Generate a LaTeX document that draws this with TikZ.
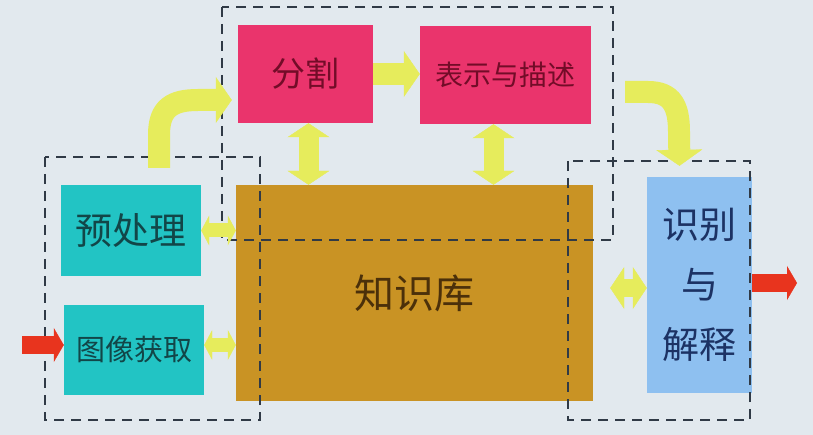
\documentclass[tikz,border=0pt]{standalone}
\usepackage{fontspec}
\newfontfamily\cjk{Noto Sans CJK SC}
\usepackage{xcolor}
\usetikzlibrary{arrows.meta}
\definecolor{bgc}{RGB}{226,233,238}
\definecolor{pinkc}{RGB}{234,52,108}
\definecolor{pinkt}{RGB}{115,12,40}
\definecolor{tealc}{RGB}{34,196,196}
\definecolor{tealt}{RGB}{18,70,72}
\definecolor{goldc}{RGB}{201,147,36}
\definecolor{goldt}{RGB}{75,48,10}
\definecolor{bluec}{RGB}{142,192,240}
\definecolor{bluet}{RGB}{28,50,100}
\definecolor{ylw}{RGB}{230,236,92}
\definecolor{redc}{RGB}{232,52,30}
\definecolor{dashc}{RGB}{48,58,70}
\tikzset{
  box/.style={inner sep=0pt, align=center},
  grp/.style={draw=dashc, line width=2.8pt, dash pattern=on 10pt off 7pt},
  yarr/.style={draw=ylw, line width=22pt,
    -{Triangle[width=46pt,length=16pt,line width=0.4pt]}},
  ydbl/.style={draw=ylw, line width=20pt,
    {Triangle[width=42pt,length=14pt,line width=0.4pt]}-{Triangle[width=42pt,length=14pt,line width=0.4pt]}},
  ysml/.style={draw=ylw, line width=14pt,
    {Triangle[width=30pt,length=8pt,line width=0.4pt]}-{Triangle[width=30pt,length=8pt,line width=0.4pt]}},
  rarr/.style={draw=redc, line width=18pt,
    -{Triangle[width=34pt,length=10pt,line width=0.4pt]}}
}
\begin{document}
\begin{tikzpicture}[x=1pt,y=-1pt]
\fill[bgc] (0,0) rectangle (813,435);
\useasboundingbox (0,0) rectangle (813,435);

\node[box, fill=pinkc, text=pinkt, minimum width=135pt, minimum height=98pt,
  font={\cjk\fontsize{34}{40}\selectfont}] (FG) at (305.5,74) {分割};
\node[box, fill=pinkc, text=pinkt, minimum width=171pt, minimum height=98pt,
  font={\cjk\fontsize{28}{32}\selectfont}] (BS) at (505.5,75) {表示与描述};
\node[box, fill=tealc, text=tealt, minimum width=140pt, minimum height=91pt,
  font={\cjk\fontsize{37}{40}\selectfont}] (YC) at (131,230.5) {预处理};
\node[box, fill=tealc, text=tealt, minimum width=140pt, minimum height=90pt,
  font={\cjk\fontsize{29}{34}\selectfont}] (TX) at (134,350) {图像获取};
\node[box, fill=goldc, text=goldt, minimum width=357pt, minimum height=216pt,
  font={\cjk\fontsize{40}{44}\selectfont}] (ZS) at (414.5,293) {知识库};
\node[box, fill=bluec, text=bluet, minimum width=105pt, minimum height=216pt,
  font={\cjk\fontsize{37}{60}\selectfont}] (SB) at (699.5,285) {识别\\与\\解释};

% dashed groups
\draw[grp] (222,7) rectangle (613,240);
\draw[grp] (45,157) rectangle (260,420);
\draw[grp] (568,161) rectangle (750,420);

\coordinate (IN) at (22,345);
\coordinate (OUT) at (797,283);

\draw[rarr] (IN) -- (IN -| TX.west);
\draw[rarr] (SB.east |- OUT) -- (OUT);

\draw[yarr] ([xshift=28pt,yshift=17pt]YC.north) -- ([xshift=28pt,yshift=50pt]YC.north)
  .. controls (159,108) and (172,100) .. (198,100) -- ([xshift=-6pt,yshift=-26pt]FG.west);
\draw[yarr] (FG.east) -- (FG.east -| BS.west);
\draw[yarr] ([xshift=34pt,yshift=-17pt]BS.east) -- (648,92)
  .. controls (672,92) and (679,106) .. (679,132) -- ([xshift=-20pt,yshift=11pt]SB.north);

\draw[ydbl] ([xshift=3pt]FG.south) -- ([xshift=3pt]FG.south |- ZS.north);
\draw[ydbl] ([xshift=-12pt]BS.south) -- ([xshift=-12pt]BS.south |- ZS.north);

\draw[ysml] (YC.east) -- (YC.east -| ZS.west);
\draw[ysml] ([yshift=5pt]TX.east) -- ([yshift=5pt]TX.east -| ZS.west);
\draw[ydbl, line width=18pt, shorten >=17pt] ([yshift=-3pt]SB.west) -- ([yshift=-3pt]SB.west -| ZS.east);
\end{tikzpicture}
\end{document}
